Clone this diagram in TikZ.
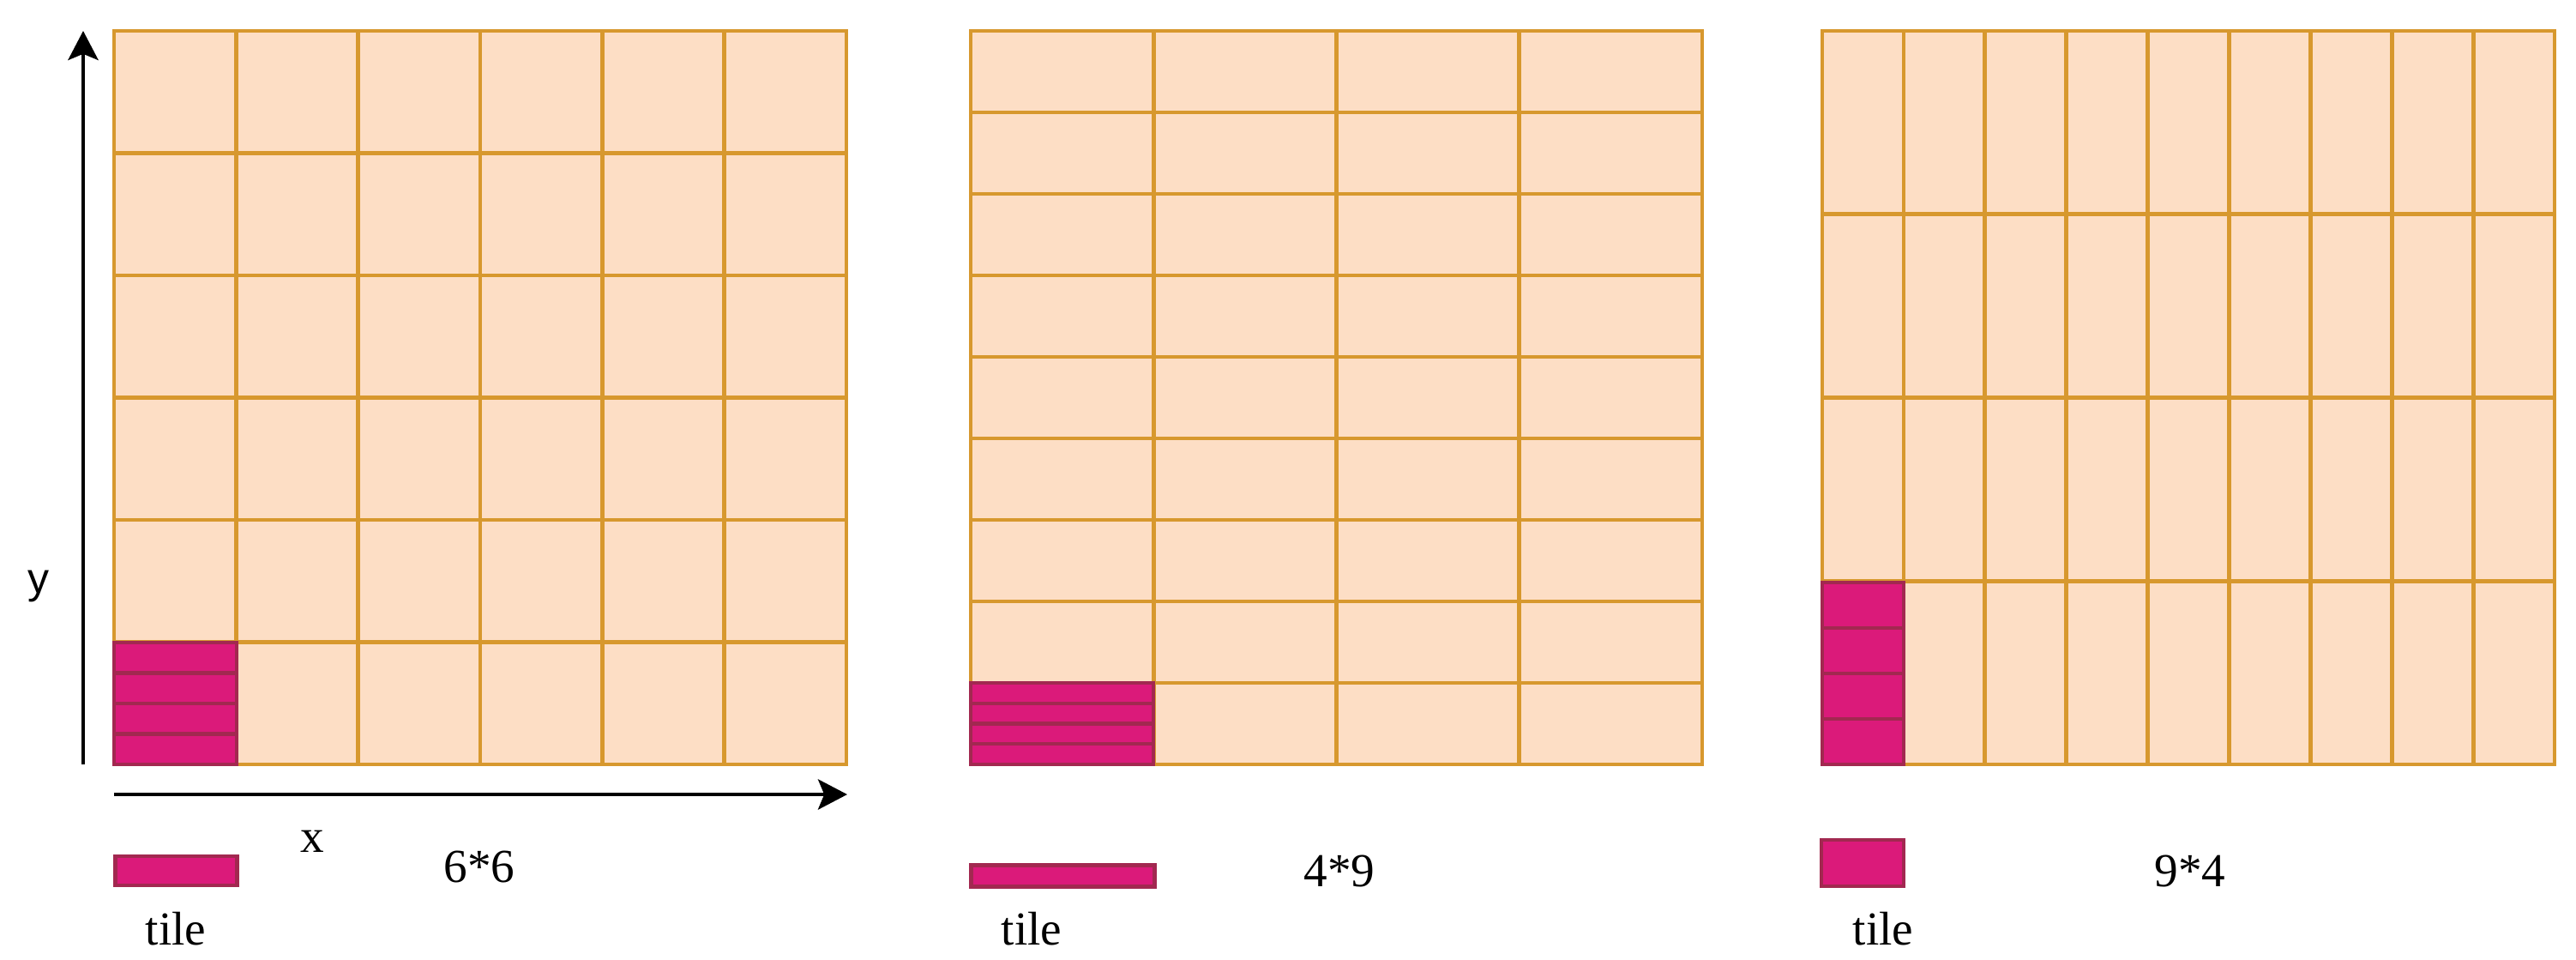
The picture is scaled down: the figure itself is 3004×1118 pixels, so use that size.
\documentclass[tikz,border=0pt]{standalone}
\usepackage{fontspec}
\setmainfont{Liberation Serif}
\newfontfamily\ysans{Liberation Sans}
\usetikzlibrary{arrows.meta}
\definecolor{peach}{RGB}{253,222,197}
\definecolor{gridor}{RGB}{215,152,46}
\definecolor{tilepink}{RGB}{219,26,122}
\definecolor{tileedge}{RGB}{162,40,80}
\begin{document}
\begin{tikzpicture}[x=0.25pt,y=-0.25pt,
  gridline/.style={draw=gridor,line width=1.2pt,line cap=rect},
  tileline/.style={draw=tileedge,line width=1.1pt},
  tilebox/.style={fill=tilepink,draw=tileedge,line width=1.1pt},
  axis/.style={draw=black,line width=1.1pt,-{Stealth[length=8.5pt,width=8.8pt,inset=1.8pt]}},
  lbl/.style={inner sep=0pt,font=\fontsize{13.8}{16}\selectfont},
  ylbl/.style={inner sep=0pt,font=\fontsize{12.5}{14}\selectfont\ysans}]
\useasboundingbox (0,0) rectangle (3004,1118);

% ---------- grid 1 : 6 x 6 ----------
\fill[peach] (133,36) rectangle (987,891);
\foreach \i in {0,...,6} {
  \draw[gridline] ({133+\i*854/6},36) -- ({133+\i*854/6},891);
  \draw[gridline] (133,{36+\i*855/6}) -- (987,{36+\i*855/6});
}
\fill[tilepink] (133,749) rectangle (276,891);
\foreach \j in {1,2,3} \draw[tileline] (133,{749+\j*142/4}) -- (276,{749+\j*142/4});
\draw[tileline] (133,749) rectangle (276,891);

% axes
\coordinate (ybot) at (97,891);
\coordinate (ytop) at (97,36);
\coordinate (xleft) at (133,926);
\coordinate (xright) at (988,926);
\draw[axis] (ybot) -- (ytop);
\draw[axis] (xleft) -- (xright);
\node[ylbl] (ylab) at (45,683) {y};
\node[lbl] (xlab) at (364,981) {x};

\node[tilebox,minimum width=35.5pt,minimum height=8.5pt,inner sep=0pt] (t1) at (205.5,1015) {};
\node[lbl] (t1lab) at (205,1083) {tile};
\node[lbl] (n1) at (559,1010) {6*6};

% ---------- grid 2 : 4 cols x 9 rows ----------
\fill[peach] (1132,36) rectangle (1985,891);
\foreach \i in {0,...,4}
  \draw[gridline] ({1132+\i*853/4},36) -- ({1132+\i*853/4},891);
\foreach \i in {0,...,9}
  \draw[gridline] (1132,{36+\i*855/9}) -- (1985,{36+\i*855/9});
\fill[tilepink] (1132,796) rectangle (1345,891);
\foreach \j in {1,2,3} \draw[tileline] (1132,{796+\j*95/4}) -- (1345,{796+\j*95/4});
\draw[tileline] (1132,796) rectangle (1345,891);

\node[tilebox,minimum width=53.5pt,minimum height=6.3pt,inner sep=0pt] (t2) at (1239.5,1021) {};
\node[lbl] (t2lab) at (1203,1083) {tile};
\node[lbl] (n2) at (1562,1015) {4*9};

% ---------- grid 3 : 9 cols x 4 rows ----------
\fill[peach] (2125,36) rectangle (2979,891);
\foreach \i in {0,...,9}
  \draw[gridline] ({2125+\i*854/9},36) -- ({2125+\i*854/9},891);
\foreach \i in {0,...,4}
  \draw[gridline] (2125,{36+\i*855/4}) -- (2979,{36+\i*855/4});
\fill[tilepink] (2125,679) rectangle (2220,891);
\foreach \j in {1,2,3} \draw[tileline] (2125,{679+\j*212/4}) -- (2220,{679+\j*212/4});
\draw[tileline] (2125,679) rectangle (2220,891);

\node[tilebox,minimum width=24pt,minimum height=13.5pt,inner sep=0pt] (t3) at (2172,1006) {};
\node[lbl] (t3lab) at (2196,1083) {tile};
\node[lbl] (n3) at (2554,1015) {9*4};
\end{tikzpicture}
\end{document}
